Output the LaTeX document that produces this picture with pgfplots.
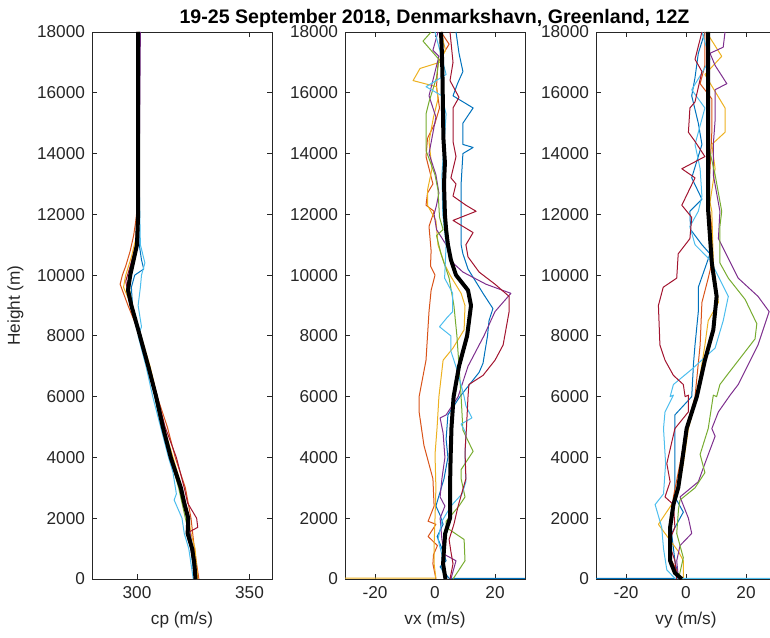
\documentclass[border=0pt]{standalone}
\usepackage{fontspec}
\setmainfont{Liberation Sans}
\usepackage{pgfplots}
\pgfplotsset{compat=1.18}
\definecolor{mgray}{RGB}{38,38,38}
\definecolor{cB}{RGB}{0,114,189}
\definecolor{cO}{RGB}{217,83,25}
\definecolor{cY}{RGB}{237,177,32}
\definecolor{cP}{RGB}{126,47,142}
\definecolor{cG}{RGB}{119,172,48}
\definecolor{cL}{RGB}{77,190,238}
\definecolor{cR}{RGB}{162,20,47}
\pgfplotsset{mstyle/.style={
  scale only axis, width=90pt, height=273.5pt, anchor=south west,
  ymin=0, ymax=18000, ytick={0,2000,...,18000},
  tick align=inside, major tick length=2.5pt,
  axis line style={draw=mgray, line width=0.4pt},
  every tick/.style={draw=mgray, line width=0.4pt},
  tick label style={font=\fontsize{8.6}{10}\selectfont, text=mgray},
  label style={font=\fontsize{8.6}{10}\selectfont, text=mgray},
  /pgf/number format/assume math mode=true,
  /pgf/number format/1000 sep={},
  scaled y ticks=false, scaled x ticks=false,
  every axis plot/.append style={line width=0.5pt, no marks, line join=round},
}}
\begin{document}
\begin{tikzpicture}
\path[use as bounding box] (0,0) rectangle (385pt,318.5pt);
% ---------------- cp ----------------
\begin{axis}[mstyle, at={(46pt,29pt)}, xmin=280, xmax=360, xtick={300,350},
  xlabel={cp (m/s)}, ylabel={Height (m)}]
\addplot[cB] coordinates {(325.5,0) (324,1000) (322,2000) (319,3000) (314.5,4000) (311,5000) (308,6000) (305.5,7000) (301.5,8000) (298,9000) (297.5,9600) (299,10000) (303,10200) (302,10500) (301,11000) (300.8,12000) (300.8,18000)};
\addplot[cO] coordinates {(327.5,0) (325.5,1000) (324,2000) (321.5,3000) (317,4000) (313.5,5000) (309,6000) (305.5,7000) (301.5,8000) (296,9000) (292.5,9700) (293.5,10000) (295,10300) (297,10800) (298.5,11300) (299.5,11800) (300.5,12500) (300.5,18000)};
\addplot[cY] coordinates {(327,0) (325.8,1000) (324,1500) (323,2000) (320,3000) (316,4000) (312,5000) (309,6000) (305.8,7000) (301.8,8000) (297.5,9000) (294,9600) (295,10000) (297.5,10600) (299.5,11200) (300.8,12500) (300.8,18000)};
\addplot[cP] coordinates {(326,0) (324.8,1000) (322.5,2000) (320,3000) (315.2,4000) (311.5,5000) (308.2,6000) (305,7000) (301,8000) (297,9000) (296,9800) (298,10200) (299.5,10700) (300.8,12000) (301.5,18000)};
\addplot[cG] coordinates {(326.5,0) (324.5,1000) (321.5,2000) (320,2500) (318.5,3000) (314.8,4000) (311,5000) (308,6000) (305,7000) (301,8000) (298,9000) (296.5,9600) (297.5,10200) (299.5,10800) (300.5,12000) (301,18000)};
\addplot[cL] coordinates {(325,0) (323,1000) (321,1500) (320,2000) (316.5,2600) (317.5,2800) (316,3500) (314,4000) (310.5,5000) (307,6000) (304,7000) (300.5,8000) (302,8300) (300.5,9000) (301.5,9600) (302,10000) (303.5,10400) (301.5,11000) (301,13000) (301,18000)};
\addplot[cR] coordinates {(326.5,0) (324,1000) (322,1500) (327,1700) (326.5,2000) (322.5,2500) (321,3000) (317.5,4000) (312.5,5000) (309,6000) (305.5,7000) (301.5,8000) (297,9000) (295,9800) (297,10300) (299.5,11000) (300,12000) (300,18000)};
\addplot[black, line width=2pt] coordinates {(326,0) (325.5,500) (324.5,1000) (322.5,1500) (322.8,2000) (321,2500) (319.5,3000) (315,4000) (311.5,5000) (308.5,6000) (305,7000) (301.3,8000) (297.5,9000) (296,9500) (297,10000) (298.5,10500) (300,11000) (300.5,12000) (300.5,14000) (300.5,16000) (300.5,18000)};
\end{axis}
% ---------------- vx ----------------
\begin{axis}[mstyle, at={(172.5pt,29pt)}, xmin=-30, xmax=30, xtick={-20,0,20},
  xlabel={vx (m/s)}]
\addplot[cB] coordinates {(200,0) (4.7,20) (1.7,400) (3.7,600) (2.3,1000) (0.7,1400) (2.7,1800) (1.7,2100) (0.3,2400) (3,3300) (4.3,4000) (3.7,4600) (4.3,5400) (8.3,6000) (14.7,6800) (16,7100) (17.5,8000) (18,8500) (19.3,8900) (16,9400) (11,10200) (9.3,10700) (8.7,11000) (8.7,12100) (8.7,13000) (9.3,14000) (12.7,14200) (9.3,14300) (9.3,15000) (12.7,15500) (6,15900) (7.5,16300) (9.3,16700) (8,17300) (7,18000)};
\addplot[cO] coordinates {(0.3,0) (-0.7,500) (-0.5,800) (0.8,1100) (-2.3,1400) (0.3,1800) (-2.3,1900) (-0.3,2400) (-0.7,3300) (-3.7,4400) (-5.3,5500) (-5.3,6000) (-3,7200) (-2,8800) (-1.3,9500) (0,10000) (-1.5,10300) (-1.3,10800) (-2,11600) (-0.3,12100) (-3,12300) (-2.5,12700) (-0.7,13000) (-3,13900) (-2.5,14500) (0,15000) (1.5,15500) (0.5,16200) (1,17000) (4.7,17600) (2,18000)};
\addplot[cY] coordinates {(-200,0) (0.3,30) (-0.3,500) (-0.3,1100) (0,2000) (0.3,3000) (0,4100) (0.7,5000) (1.3,6000) (2.7,7200) (6,7600) (9.7,8200) (10,9000) (8.7,9400) (5,10000) (3,10400) (1,11000) (0.3,11800) (-2.5,12300) (-2.5,12800) (-1,13500) (-2,14400) (-0.5,15200) (1,15800) (0.5,16200) (-7.3,16400) (-5,16800) (1.5,17000) (3.5,17400) (2,18000)};
\addplot[cP] coordinates {(5.3,0) (7,600) (3.3,800) (2.3,1300) (1.7,2000) (3.3,2400) (1.7,2700) (2.3,3300) (3.3,4000) (2.7,4800) (1.7,5300) (3.7,5400) (7.7,6000) (11,7000) (16.3,8000) (20,8800) (25.3,9400) (17,9700) (9.3,10100) (6,10400) (3.7,11000) (0.5,11500) (-0.3,12000) (0.5,12300) (1.3,12700) (0.3,13300) (-2,14000) (0.3,15200) (-2,15900) (1.3,17200) (-0.7,17400) (1,18000)};
\addplot[cG] coordinates {(6,0) (10,600) (9.7,1300) (3.7,1700) (3.7,1900) (8,2400) (10,2700) (8.7,3300) (8.7,3600) (12.7,4200) (9.3,4900) (8.7,6000) (8,7000) (7.3,8000) (6.3,9000) (4.7,9900) (2,10700) (0.5,11300) (2.7,11500) (1.5,11900) (1,12800) (0,13300) (-3,14100) (-3,15300) (-2,15700) (0.5,16500) (1.3,17100) (-4,17700) (-1.3,18000)};
\addplot[cL] coordinates {(3.7,0) (2.3,300) (2.3,800) (1,1300) (2.3,1900) (5.3,2400) (9,2800) (10.3,3200) (10,4000) (10.3,4800) (8.7,5100) (12.3,5300) (10.3,5700) (9.7,6000) (7.6,6800) (5.3,7500) (5.3,8000) (1.5,8300) (4,8600) (5.9,8800) (5.9,9400) (3.2,9900) (3.7,11000) (2.6,12000) (2.3,13300) (3.7,15300) (2.3,15900) (-3,16200) (3.7,16600) (0,18000)};
\addplot[cR] coordinates {(5,0) (6,500) (5.3,900) (4.7,1300) (6.3,1800) (7.7,2400) (10.3,3300) (10,4200) (10.5,5000) (11,6000) (11.3,6400) (16,6700) (20,7200) (22.7,7700) (24.7,8800) (24.7,9300) (20,9700) (14.7,10100) (11,10600) (10.3,11000) (12.7,11400) (6,11800) (13.7,12100) (10.3,12300) (6,12600) (7,13000) (5.3,13200) (7,13900) (6,14400) (6,15500) (8,15850) (5,16400) (6,17000) (5,18000)};
\addplot[black, line width=2pt] coordinates {(3.5,0) (3,300) (2.7,500) (3,1000) (3.4,1500) (5,2000) (5,3000) (5.2,4000) (5.5,5000) (6.2,6000) (8,7000) (10.7,8000) (12,9000) (11,9500) (7,10000) (5.3,10500) (4.3,11000) (3.7,11500) (3.3,12000) (3,13000) (3.3,13700) (2.8,14500) (2.6,15800) (2.5,16500) (2.3,17300) (2,18000)};
\end{axis}
% ---------------- vy ----------------
\begin{axis}[mstyle, at={(298pt,29pt)}, xmin=-30, xmax=30, xtick={-20,0,20},
  xlabel={vy (m/s)}]
\addplot[cB] coordinates {(-200,0) (-2.5,20) (-3.7,600) (-4.8,1500) (-0.9,2200) (-3.7,2700) (-3.7,4350) (-3.7,5400) (1.9,6000) (2.5,7100) (3,7700) (4.1,8800) (4.1,9600) (8,10700) (5.3,11000) (1.5,11500) (1.3,12100) (5.3,12500) (1.9,13200) (5.3,14300) (4.1,15000) (1.9,15900) (3,16500) (4.1,17300) (6.3,18000)};
\addplot[cO] coordinates {(-2,0) (-3.2,300) (-5.3,700) (-5.3,1700) (-4.2,2700) (-2,3800) (0.2,4950) (3,6000) (4.7,7700) (5.3,9100) (7.4,9900) (8.6,10400) (8.6,11600) (7.4,12400) (8,13500) (8.6,14700) (8.6,15800) (4.7,16300) (6.3,16900) (6.3,18000)};
\addplot[cY] coordinates {(-0.9,0) (-0.9,600) (-2.5,900) (-7,1500) (-9.2,1800) (-3.1,2700) (-0.9,3800) (0.8,4950) (3.6,6000) (6.3,7700) (7.4,8500) (10.8,9100) (9.7,9900) (9.1,10400) (8.6,12100) (8,12400) (9.7,13500) (8.6,14300) (13,14700) (13,15500) (6.3,16600) (11.9,17200) (6.8,18000)};
\addplot[cP] coordinates {(-2.5,0) (-3.1,600) (-2,1100) (1.9,1500) (0.8,2000) (-2,2700) (4.1,3200) (6.3,3800) (9.7,4700) (8.6,4950) (10.8,5500) (14.7,6050) (17.4,6400) (24,7700) (27.7,8800) (24,9300) (17.4,9900) (10.8,11200) (11.3,12100) (9.1,13300) (9.1,14300) (9.7,15100) (9.7,16100) (13.6,16300) (9.7,16900) (8,17300) (12.4,17500) (13,18000)};
\addplot[cG] coordinates {(-2.5,0) (-0.9,700) (-3.1,1500) (-2.5,2300) (-2,2600) (3,3000) (6.3,3500) (4.7,4100) (7.4,4950) (9.1,6050) (10.2,6000) (11.3,6400) (13.6,6700) (23,7900) (23.6,8400) (19.7,9200) (14.1,9900) (11.3,10400) (11.3,11600) (11.9,12100) (9.7,13300) (7.4,14300) (7.4,15500) (7.4,17100) (7.4,18000)};
\addplot[cL] coordinates {(200,0) (-3.7,20) (-6.4,300) (-7.5,1000) (-8.1,1700) (-10.3,2450) (-7.5,2800) (-6.8,3800) (-7.5,4950) (-7,5500) (-4.2,6050) (-5.3,6000) (-4.2,6400) (1.9,6900) (9.7,7600) (12.4,8500) (14.1,9300) (8,10500) (3,11000) (1.3,11600) (4.1,12100) (5.3,12600) (4.7,13500) (3,14300) (6.3,15500) (1.9,16100) (8,17100) (5.3,18000)};
\addplot[cR] coordinates {(-3.1,0) (-3.7,600) (-5.8,1200) (-3.7,1700) (-4.2,2450) (-7,2700) (-5.3,3200) (-6.4,3800) (-3.7,4950) (0.8,5500) (0.8,6050) (-0.3,6000) (-0.9,6400) (-4.2,6700) (-7,7200) (-8.7,7700) (-9.2,9000) (-7.6,9600) (-3.1,9900) (-2.6,10700) (1.3,11200) (1.9,11900) (-1.4,12300) (3,13200) (-1.4,13500) (6.3,13900) (3,14400) (0.8,14700) (1.3,15500) (3,15700) (5.3,16700) (3,17100) (5.3,18000)};
\addplot[black, line width=2pt] coordinates {(-1.4,0) (-3.7,200) (-5.3,600) (-5.3,1700) (-4.2,2450) (-2.6,3000) (-1.4,3800) (0.2,4950) (3.6,6000) (6.3,7200) (9.1,8200) (10.2,9300) (8.6,10400) (7.4,12100) (7.4,13000) (7.4,15000) (7.4,17000) (7.4,18000)};
\end{axis}
\node[anchor=base, font=\fontsize{9.8}{11}\selectfont\bfseries, text=black] at (217.25pt,306.5pt) {19-25 September 2018, Denmarkshavn, Greenland, 12Z};
\end{tikzpicture}
\end{document}
